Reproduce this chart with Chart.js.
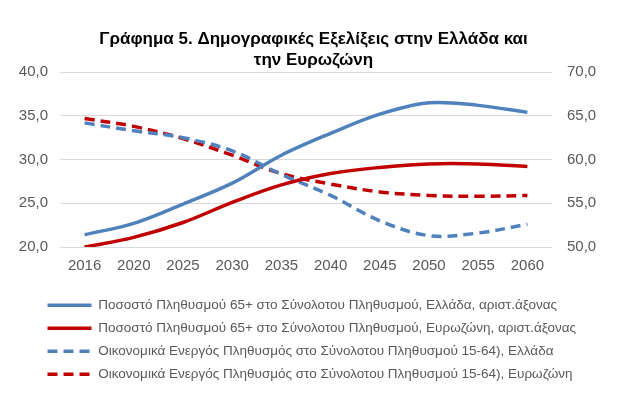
<!DOCTYPE html>
<html>
<head>
  <meta charset="utf-8">
  <script src="https://cdn.jsdelivr.net/npm/chart.js"></script>
  <style>
    body { margin:0; background:#ffffff; }
    #wrap { width:621px; height:397px; }
  </style>
</head>
<body>
<div id="wrap">
  <canvas id="myChart" width="621" height="397"></canvas>
</div>
<script>
  var years = ['2016', '2020', '2025', '2030', '2035', '2040', '2045', '2050', '2055', '2060'];

  // left axis (%)
  var greece65 = [21.4, 22.7, 24.9, 27.3, 30.5, 33.0, 35.2, 36.5, 36.2, 35.4];
  var euro65   = [20.0, 21.1, 22.8, 25.1, 27.1, 28.4, 29.1, 29.5, 29.5, 29.2];
  // right axis (%)
  var greeceActive = [64.2, 63.3, 62.5, 61.0, 58.3, 55.9, 53.0, 51.3, 51.6, 52.6];
  var euroActive   = [64.7, 63.8, 62.4, 60.5, 58.4, 57.2, 56.3, 55.9, 55.8, 55.9];

  var seriesLabels = [
    'Ποσοστό Πληθυσμού 65+ στο Σύνολοτου Πληθυσμού, Ελλάδα, αριστ.άξονας',
    'Ποσοστό Πληθυσμού 65+ στο Σύνολοτου Πληθυσμού, Ευρωζώνη, αριστ.άξονας',
    'Οικονομικά Ενεργός Πληθυσμός στο Σύνολοτου Πληθυσμού 15-64), Ελλάδα',
    'Οικονομικά Ενεργός Πληθυσμός στο Σύνολοτου Πληθυσμού 15-64), Ευρωζώνη'
  ];
  var titleLines = ['Γράφημα 5. Δημογραφικές Εξελίξεις στην Ελλάδα και', 'την Ευρωζώνη'];

  var BLUE = '#4f81bd';
  var RED = '#c00000';
  var FONT = "'Liberation Sans', Arial, sans-serif";

  function commaNumber(v) {
    return Number(v).toFixed(1).replace('.', ',');
  }

  function makeSet(label, data, color, axis, dashed) {
    return {
      label: label,
      data: data,
      yAxisID: axis,
      borderColor: color,
      backgroundColor: color,
      borderWidth: 3.5,
      borderDash: dashed ? [10, 6] : [],
      borderCapStyle: 'butt',
      pointRadius: 0,
      pointHoverRadius: 0,
      tension: 0.35,
      fill: false
    };
  }

  // point-style legend items lose the dash, put it back
  function legendLabels(chart) {
    var items = Chart.defaults.plugins.legend.labels.generateLabels(chart);
    items.forEach(function(it) {
      var ds = chart.data.datasets[it.datasetIndex];
      it.lineDash = ds.borderDash;
      it.lineWidth = ds.borderWidth;
      it.strokeStyle = ds.borderColor;
    });
    return items;
  }

  // move legend / title to where the original sits
  var placeBoxes = {
    id: 'placeBoxes',
    afterLayout: function(chart) {
      chart.legend.left = 38;
      chart.titleBlock.left += 6;
      chart.titleBlock.right += 6;
    }
  };

  new Chart(document.getElementById('myChart'), {
    type: 'line',
    data: {
      labels: years,
      datasets: [
        makeSet(seriesLabels[0], greece65, BLUE, 'yLeft', false),
        makeSet(seriesLabels[1], euro65, RED, 'yLeft', false),
        makeSet(seriesLabels[2], greeceActive, BLUE, 'yRight', true),
        makeSet(seriesLabels[3], euroActive, RED, 'yRight', true)
      ]
    },
    plugins: [placeBoxes],
    options: {
      responsive: false,
      animation: false,
      layout: { padding: { left: 19, right: 25, top: 0, bottom: 6 } },
      plugins: {
        title: {
          display: true,
          text: titleLines,
          color: '#000000',
          font: { family: FONT, size: 17, weight: 'bold', lineHeight: 1.24 },
          padding: { top: 28.5, bottom: 1.5 }
        },
        legend: {
          position: 'bottom',
          align: 'start',
          labels: {
            usePointStyle: true,
            pointStyle: 'line',
            pointStyleWidth: 44,
            padding: 9.5,
            color: '#595959',
            font: { family: FONT, size: 13.5 },
            generateLabels: legendLabels
          }
        },
        tooltip: { enabled: false }
      },
      scales: {
        x: {
          offset: true,
          grid: { display: false, drawTicks: false },
          border: { display: false },
          ticks: { color: '#595959', font: { family: FONT, size: 15 }, padding: 10 },
          afterFit: function(scale) { scale.height = 42; }
        },
        yLeft: {
          position: 'left',
          min: 20,
          max: 40,
          border: { display: false },
          grid: { color: '#d9d9d9', lineWidth: 1, drawTicks: false },
          ticks: { stepSize: 5, color: '#595959', font: { family: FONT, size: 15 }, padding: 12, callback: commaNumber },
          afterFit: function(scale) { scale.width = 41; }
        },
        yRight: {
          position: 'right',
          min: 50,
          max: 70,
          border: { display: false },
          grid: { display: false, drawTicks: false },
          ticks: { stepSize: 5, color: '#595959', font: { family: FONT, size: 15 }, padding: 15, callback: commaNumber },
          afterFit: function(scale) { scale.width = 44; }
        }
      }
    }
  });
</script>
</body>
</html>
